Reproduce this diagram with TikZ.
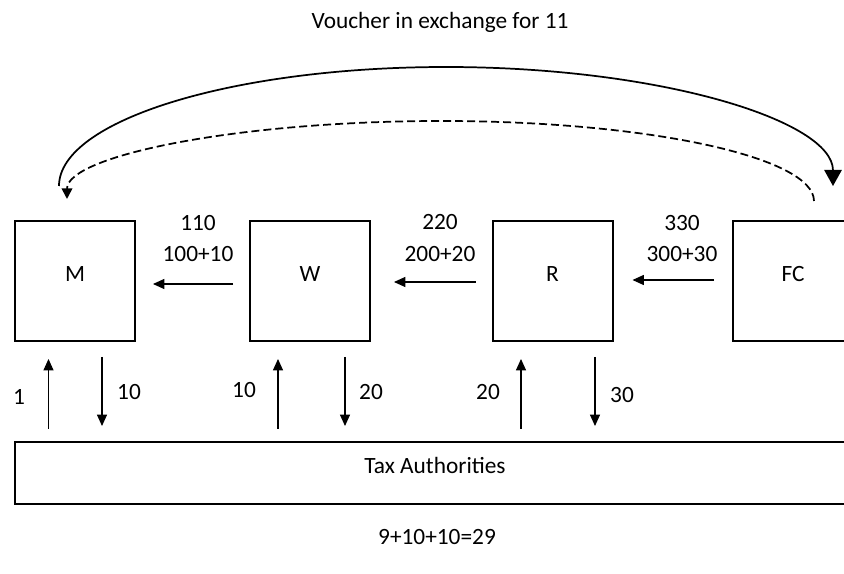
\documentclass[tikz,border=0pt]{standalone}
\usepackage{fontspec}
\setmainfont{Carlito}
\usetikzlibrary{arrows.meta,calc}
\begin{document}
\begin{tikzpicture}[x=0.75pt,y=-0.75pt,
  font=\fontsize{17.5pt}{21pt}\selectfont,
  party/.style={draw,line width=1.5pt,minimum width=90pt,minimum height=90pt,
    inner sep=0pt,text height=11.3pt,text depth=10.5pt},
  authority/.style={draw,line width=1.5pt,minimum width=630pt,minimum height=46.5pt,
    inner sep=0pt,text height=11.3pt,text depth=10.5pt},
  flow/.style={line width=0.8pt,-{Triangle[length=8.5pt,width=7.5pt]}},
  voucher/.style={line width=1.3pt,-{Triangle[length=12pt,width=13pt]}},
  refund/.style={line width=1.3pt,dash pattern=on 6pt off 3pt,-{Triangle[length=8pt,width=8pt]}},
  lbl/.style={inner sep=0pt}]
\useasboundingbox (0,0) rectangle (844,574);
\clip (0,0) rectangle (844,574);

% the four parties of the chain
\node[party] (M) at (75,281) {M};
\node[party] (W) at (310,281) {W};
\node[party] (R) at (552.5,281) {R};
\node[party] (FC) at (793,281) {FC};

% tax authorities
\node[authority] (tax) at (435,473) {Tax Authorities};

% goods and prices along the chain
\draw[flow] ($(W.west)+(-16,3)$) -- ($(M.east)+(17,3)$);
\draw[flow] ($(R.west)+(-16,1)$) -- ($(W.east)+(23,1)$);
\draw[flow] ($(FC.west)+(-18,-1)$) -- ($(R.east)+(19,-1)$);

\node[lbl] (p1) at (198,223) {110};
\node[lbl] (q1) at (198,254) {100+10};
\node[lbl] (p2) at (440,222) {220};
\node[lbl] (q2) at (440,254) {200+20};
\node[lbl] (p3) at (682,223) {330};
\node[lbl] (q3) at (682,254) {300+30};

% payments to and from the tax authorities
\draw[flow] ($(tax.north -| M.south)+(-26.5,-12)$) -- ($(M.south)+(-26.5,17)$);
\draw[flow] ($(M.south)+(27,15)$) -- ($(tax.north -| M.south)+(27,-15)$);
\draw[flow] ($(tax.north -| W.south)+(-32,-12)$) -- ($(W.south)+(-32,17)$);
\draw[flow] ($(W.south)+(35,15)$) -- ($(tax.north -| W.south)+(35,-15)$);
\draw[flow] ($(tax.north -| R.south)+(-31.5,-12)$) -- ($(R.south)+(-31.5,17)$);
\draw[flow] ($(R.south)+(42.5,15)$) -- ($(tax.north -| R.south)+(42.5,-15)$);

\node[lbl] (t1) at (19,397) {1};
\node[lbl] (t2) at (129,392) {10};
\node[lbl] (t3) at (244,390) {10};
\node[lbl] (t4) at (371,392) {20};
\node[lbl] (t5) at (488,392) {20};
\node[lbl] (t6) at (622,395) {30};

% voucher from M to FC and back
\coordinate (sa) at ($(M.north)+(-16,-34)$);
\coordinate (sb) at ($(FC.north)+(40,-34)$);
\draw[voucher] (sa) .. controls (59,120.7) and (232,67) .. (446,67)
  .. controls (660,67) and (833,120.7) .. (sb);

\coordinate (da) at ($(FC.north)+(21,-19)$);
\coordinate (db) at ($(M.north)+(-8,-21)$);
\draw[refund] (da) .. controls (814,157) and (647,121) .. (441.5,121)
  .. controls (236,121) and (67,156) .. (db);

% captions
\node[lbl] (top) at (440,22) {Voucher in exchange for 11};
\node[lbl] (sum) at (437,537) {9+10+10=29};
\end{tikzpicture}
\end{document}
